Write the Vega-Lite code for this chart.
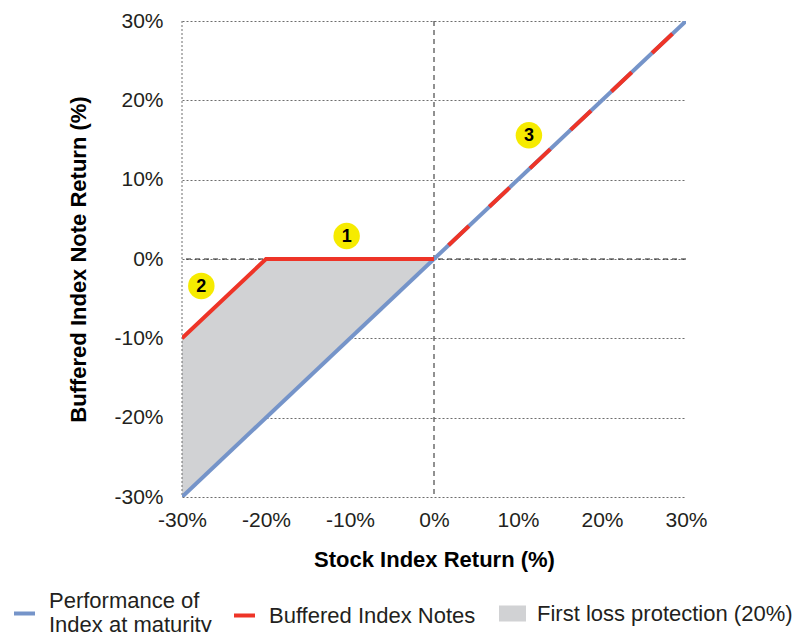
{
  "$schema": "https://vega.github.io/schema/vega-lite/v6.json",
  "width": 504,
  "height": 476,
  "autosize": {"type": "none"},
  "padding": {"left": 182, "top": 21, "right": 115, "bottom": 135},
  "background": "white",
  "config": {
    "view": {"stroke": null},
    "font": "Liberation Sans",
    "axis": {"labelColor": "#231f20", "titleColor": "#000000"},
    "legend": {"labelFont": "Liberation Sans", "labelFontSize": 22, "labelColor": "#231f20", "labelLimit": 400, "title": null, "orient": "none"}
  },
  "datasets": {
    "blue": [
      {"x": -30, "y": -30, "series": "Performance of Index at maturity"},
      {"x": 30, "y": 30, "series": "Performance of Index at maturity"}
    ],
    "red": [
      {"x": -30, "y": -10, "series": "Buffered Index Notes"},
      {"x": -20, "y": 0, "series": "Buffered Index Notes"},
      {"x": 0, "y": 0, "series": "Buffered Index Notes"}
    ],
    "dash": [
      {"x": 0, "y": 0},
      {"x": 30, "y": 30}
    ],
    "area": [
      {"x": -30, "y": -30, "y2": -10, "series": "First loss protection (20%)"},
      {"x": -20, "y": -20, "y2": 0, "series": "First loss protection (20%)"},
      {"x": 0, "y": 0, "y2": 0, "series": "First loss protection (20%)"}
    ],
    "leftEdge": [{"x": -30}],
    "zeroX": [{"x": 0}],
    "zeroY": [{"y": 0}],
    "badges": [
      {"x": -10.4, "y": 2.9, "label": "1"},
      {"x": -27.7, "y": -3.4, "label": "2"},
      {"x": 11.3, "y": 15.6, "label": "3"}
    ]
  },
  "layer": [
    {
      "data": {"name": "area"},
      "mark": {"type": "area", "opacity": 1},
      "encoding": {
        "x": {"field": "x", "type": "quantitative", "scale": {"domain": [-30, 30], "nice": false, "zero": false},
          "axis": {
            "values": [-30, -20, -10, 0, 10, 20, 30],
            "labelExpr": "datum.value + '%'",
            "domain": false, "ticks": false, "grid": false, "labelFlush": false,
            "labelFontSize": 21, "labelPadding": 12,
            "title": "Stock Index Return (%)",
            "titleFontSize": 22, "titleFontWeight": "bold", "titlePadding": 19
          }
        },
        "y": {"field": "y", "type": "quantitative", "scale": {"domain": [-30, 30], "nice": false, "zero": false},
          "axis": {
            "values": [-30, -20, -10, 0, 10, 20, 30],
            "labelExpr": "datum.value + '%'",
            "domain": false, "ticks": false, "grid": true, "labelFlush": false,
            "gridDash": [2, 2], "gridColor": "#6d6d6d", "gridWidth": 1, "gridOpacity": 1,
            "labelFontSize": 21, "labelPadding": 19,
            "title": "Buffered Index Note Return (%)",
            "titleFontSize": 22, "titleFontWeight": "bold", "titlePadding": 23
          }
        },
        "y2": {"field": "y2"},
        "fill": {"field": "series", "type": "nominal",
          "scale": {"domain": ["First loss protection (20%)"], "range": ["#d1d2d4"]},
          "legend": {
            "legendX": 317, "legendY": 579,
            "symbolType": "M-1,-0.593H1V0.593H-1Z", "symbolSize": 729, "symbolStrokeWidth": 0,
            "labelOffset": 11
          }
        }
      }
    },
    {
      "data": {"name": "leftEdge"},
      "mark": {"type": "rule", "strokeWidth": 1, "strokeDash": [2, 2], "color": "#6d6d6d"},
      "encoding": {"x": {"field": "x", "type": "quantitative"}}
    },
    {
      "data": {"name": "zeroX"},
      "mark": {"type": "rule", "strokeWidth": 1, "strokeDash": [5, 4], "color": "#222222"},
      "encoding": {"x": {"field": "x", "type": "quantitative"}}
    },
    {
      "data": {"name": "zeroY"},
      "mark": {"type": "rule", "strokeWidth": 1, "strokeDash": [5, 4], "color": "#222222"},
      "encoding": {"y": {"field": "y", "type": "quantitative"}}
    },
    {
      "data": {"name": "blue"},
      "mark": {"type": "line", "strokeWidth": 4, "clip": true},
      "encoding": {
        "x": {"field": "x", "type": "quantitative"},
        "y": {"field": "y", "type": "quantitative"},
        "stroke": {"field": "series", "type": "nominal",
          "scale": {"domain": ["Performance of Index at maturity"], "range": ["#7594c9"]},
          "legend": {
            "legendX": -170, "legendY": 580,
            "symbolType": "stroke", "symbolSize": 441, "symbolStrokeWidth": 4,
            "labelOffset": 12,
            "labelExpr": "['Performance of', 'Index at maturity']",
            "labelLineHeight": 21,
            "encode": {"labels": {"update": {"dy": {"value": -13}}}}
          }
        }
      }
    },
    {
      "data": {"name": "red"},
      "mark": {"type": "line", "strokeWidth": 4, "clip": true},
      "encoding": {
        "x": {"field": "x", "type": "quantitative"},
        "y": {"field": "y", "type": "quantitative"},
        "color": {"field": "series", "type": "nominal",
          "scale": {"domain": ["Buffered Index Notes"], "range": ["#ee3427"]},
          "legend": {
            "legendX": 50, "legendY": 582,
            "symbolType": "stroke", "symbolSize": 441, "symbolStrokeWidth": 4,
            "labelOffset": 12
          }
        },
        "order": {"field": "x", "type": "quantitative"}
      }
    },
    {
      "data": {"name": "dash"},
      "mark": {"type": "line", "strokeWidth": 4, "stroke": "#ee3427", "strokeDash": [28, 28], "strokeDashOffset": 36},
      "encoding": {
        "x": {"field": "x", "type": "quantitative"},
        "y": {"field": "y", "type": "quantitative"}
      }
    },
    {
      "data": {"name": "badges"},
      "mark": {"type": "point", "shape": "circle", "filled": true, "size": 700, "color": "#f6eb00", "opacity": 1},
      "encoding": {
        "x": {"field": "x", "type": "quantitative"},
        "y": {"field": "y", "type": "quantitative"}
      }
    },
    {
      "data": {"name": "badges"},
      "mark": {"type": "text", "fontSize": 18, "fontWeight": "bold", "color": "#000000", "baseline": "middle", "align": "center", "dy": 1},
      "encoding": {
        "x": {"field": "x", "type": "quantitative"},
        "y": {"field": "y", "type": "quantitative"},
        "text": {"field": "label"}
      }
    }
  ]
}
